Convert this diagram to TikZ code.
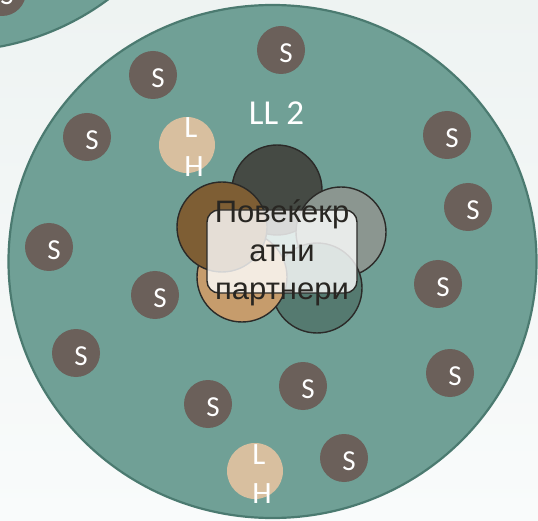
\documentclass[tikz,border=0pt]{standalone}
\usepackage{fontspec}
\setmainfont{Liberation Sans}
\newfontfamily\calib{Carlito}
\definecolor{bgtop}{HTML}{EEF3F2}
\definecolor{bgbot}{HTML}{F9FBFB}
\definecolor{bigfill}{HTML}{70A096}
\definecolor{bigline}{HTML}{4B7A70}
\definecolor{sfill}{HTML}{6B605A}
\definecolor{lhfill}{HTML}{D8BF9F}
\definecolor{fdark}{HTML}{454A44}
\definecolor{fbrown}{HTML}{7E5E34}
\definecolor{fgray}{HTML}{8B9690}
\definecolor{ftan}{HTML}{C69C6C}
\definecolor{fteal}{HTML}{557A70}
\definecolor{fline}{HTML}{2B2A28}
\definecolor{txt}{HTML}{282622}
\begin{document}
\begin{tikzpicture}[x=1pt,y=-1pt,
  bigc/.style={fill=bigfill,draw=bigline,line width=2.2pt},
  snode/.style={circle,fill=sfill,minimum size=48pt,inner sep=0pt,
    label={[stext,xshift=5pt,yshift=-3pt]center:S}},
  stext/.style={text=white,font=\calib\fontsize{29}{34}\selectfont,inner sep=0pt},
  lhnode/.style={circle,fill=lhfill,minimum size=56pt,inner sep=0pt},
  lhtext/.style={text=white,font=\calib\fontsize{31}{39}\selectfont,align=left,inner sep=0pt},
  petal/.style={circle,minimum size=90pt,inner sep=0pt,draw=fline,line width=1.4pt},
  box/.style={draw=fline,line width=1.4pt,fill=white,fill opacity=0.8,rounded corners=12pt,
    minimum width=150pt,minimum height=83pt,inner sep=0pt},
  maintext/.style={text=txt,font=\fontsize{31}{38.5}\selectfont,align=center,inner sep=0pt}]
\useasboundingbox (0,0) rectangle (538,521);
\fill[top color=bgtop,bottom color=bgbot] (0,0) rectangle (538,521);
% top-left neighbour circle
\draw[bigc] (-48,-211) circle [radius=262];
\node[snode] (s0) at (2,-8) {};
% main circle
\draw[bigc] (272.5,261.5) ellipse [x radius=264, y radius=256.5];
\node[snode] (s1) at (281,50) {};
\node[snode] (s2) at (153,75) {};
\node[snode] (s3) at (87,137) {};
\node[snode] (s4) at (447,135) {};
\node[snode] (s5) at (468,207) {};
\node[snode] (s6) at (49,247) {};
\node[snode] (s7) at (155,295) {};
\node[snode] (s8) at (438,284) {};
\node[snode] (s9) at (76,353) {};
\node[snode] (s10) at (303,386) {};
\node[snode] (s11) at (208,404) {};
\node[snode] (s12) at (450,373) {};
\node[snode] (s13) at (344,458) {};
\node[lhnode] (lh1) at (187,145) {};
\node[lhtext] (lh1t) at (194,147.5) {L\\H};
\node[lhnode] (lh2) at (255,471) {};
\node[lhtext] (lh2t) at (262,474) {L\\H};
\node[text=white,font=\calib\fontsize{35}{40}\selectfont,inner sep=0pt] (ll) at (276.5,113) {LL 2};
% flower
\node[petal,fill=fdark] (p1) at (277,190) {};
\node[petal,fill=fgray] (p2) at (341,232) {};
\node[petal,fill=fteal] (p3) at (317,288) {};
\node[petal,fill=ftan] (p4) at (242,277) {};
\node[petal,fill=fbrown] (p5) at (222,227) {};
\node[box] (bx) at (282,251.5) {};
\node[maintext] (mt) at (282,253) {Повеќекр\\атни\\партнери};
\end{tikzpicture}
\end{document}
